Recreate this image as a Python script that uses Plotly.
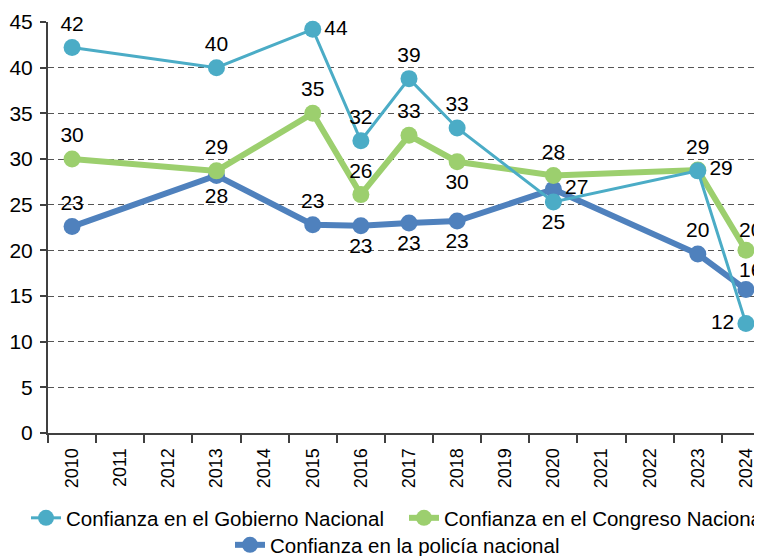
import plotly.graph_objects as go

years = ["2010", "2011", "2012", "2013", "2014", "2015", "2016", "2017",
         "2018", "2019", "2020", "2021", "2022", "2023", "2024"]

obs_years = ["2010", "2013", "2015", "2016", "2017", "2018", "2020", "2023", "2024"]
gobierno = [42.2, 40.0, 44.2, 32.0, 38.8, 33.4, 25.3, 28.7, 12.0]
congreso = [30.0, 28.7, 35.0, 26.1, 32.6, 29.7, 28.2, 28.8, 20.0]
policia = [22.6, 28.2, 22.8, 22.7, 23.0, 23.2, 26.7, 19.6, 15.7]

names = ["Confianza en el Gobierno Nacional",
         "Confianza en el Congreso Nacional",
         "Confianza en la policía nacional"]

# styling (not data)
pos_gob = ["top center", "top center", "middle right", "top center", "top center",
           "top center", "bottom center", "top center", "middle left"]
pos_con = ["top center", "top center", "top center", "top center", "top center",
           "bottom center", "top center", "middle right", "top right"]
pos_pol = ["top center", "bottom center", "top center", "bottom center", "bottom center",
           "bottom center", "middle right", "top center", "top right"]

FONT = "Liberation Sans, Arial, sans-serif"
LBL = "%{y:.0f}"

fig = go.Figure()
specs = [
    (policia, names[2], "#4f81bd", 6, pos_pol, "legend3", True),
    (congreso, names[1], "#9ccf6e", 6, pos_con, "legend2", True),
    (gobierno, names[0], "#4bacc6", 3, pos_gob, "legend", False),
]
annotations = []
for vals, nm, col, lw, pos, lg, last_annot in specs:
    tt = [LBL] * len(vals)
    if last_annot:
        tt[-1] = ""
        annotations.append(dict(
            x=years.index(obs_years[-1]), y=vals[-1], text=f"{vals[-1]:.0f}",
            xref="x", yref="y", showarrow=False, xanchor="left",
            yanchor="bottom", xshift=-9, yshift=7,
            font=dict(family=FONT, size=21, color="#000000")))
    fig.add_trace(go.Scatter(
        x=obs_years, y=vals, name=nm, mode="lines+markers+text",
        line=dict(color=col, width=lw),
        marker=dict(color=col, size=17),
        texttemplate=tt, textposition=pos,
        textfont=dict(family=FONT, size=21, color="#000000"),
        cliponaxis=False, legend=lg,
    ))

legend_common = dict(orientation="h", xref="container", yref="container",
                     xanchor="left", yanchor="middle", bgcolor="rgba(0,0,0,0)",
                     font=dict(family=FONT, size=20.5, color="#000000"),
                     itemclick=False)
fig.update_layout(
    width=762, height=556,
    margin=dict(l=40, r=0, t=14, b=131, autoexpand=False),
    paper_bgcolor="white", plot_bgcolor="white",
    font=dict(family=FONT, size=20, color="#000000"),
    showlegend=True,
    annotations=annotations,
    legend=dict(x=18 / 762, y=46 / 556, **legend_common),
    legend2=dict(x=396 / 762, y=46 / 556, **legend_common),
    legend3=dict(x=222 / 762, y=19 / 556, **legend_common),
    xaxis=dict(type="category", categoryorder="array", categoryarray=years,
               range=[-0.5, 14.5], tickson="boundaries", ticks="outside",
               ticklen=8, tickcolor="#404040", tickwidth=2,
               showline=True, linecolor="#404040", linewidth=2,
               showgrid=False, tickangle=-90, ticklabelstandoff=6,
               tickfont=dict(family=FONT, size=18, color="#000000")),
    yaxis=dict(range=[0, 45], dtick=5, ticks="outside", ticklen=6,
               tickcolor="#404040", tickwidth=2, showline=True,
               linecolor="#404040", linewidth=2, zeroline=False,
               showgrid=True, gridcolor="#555555", gridwidth=1,
               griddash="6px,4px", ticklabelstandoff=3,
               tickfont=dict(family=FONT, size=21, color="#000000")),
)
fig.write_html("out.html")
